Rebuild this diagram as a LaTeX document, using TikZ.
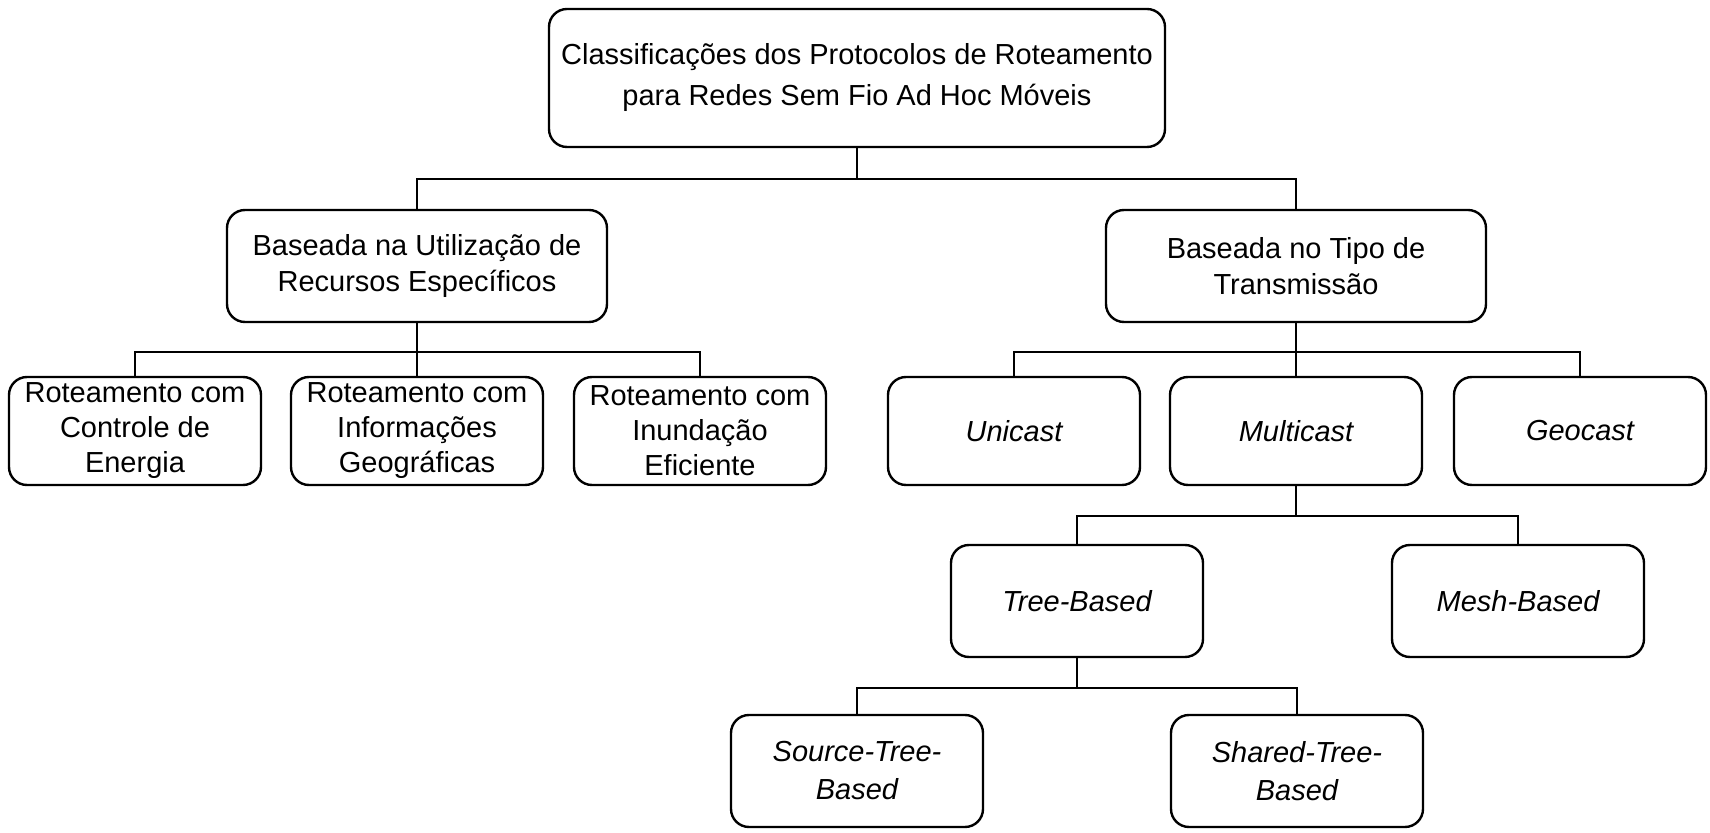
\documentclass[tikz,border=0pt]{standalone}
\usepackage{fontspec}
\setmainfont{Liberation Sans}
\usetikzlibrary{positioning, calc}

\begin{document}
\begin{tikzpicture}[%
    x=0.5pt, y=-0.5pt,
    every node/.style={%
      font=\fontsize{14.5}{17.5}\selectfont,
      text centered,
      align=center
    },
    box/.style={draw=black, line width=1.2pt, rounded corners=9pt, inner sep=0pt},
    midbox/.style={box, minimum width=190pt, minimum height=56pt,
      font=\fontsize{14.5}{18}\selectfont},
    leafbox/.style={box, minimum width=126pt, minimum height=54pt},
    lowbox/.style={box, minimum width=126pt, minimum height=56pt,
      font=\fontsize{14.5}{19}\selectfont\itshape},
    link/.style={draw=black, line width=1pt}
  ]

  \useasboundingbox (0,0) rectangle (1710,833);

  \node[box, minimum width=308pt, minimum height=69pt,
    font=\fontsize{14.5}{20.5}\selectfont]
    (root) at (857,78)
    {Classificações dos Protocolos de Roteamento\\para Redes Sem Fio Ad Hoc Móveis};

  \node[midbox] (recursos) at (417,266)
    {Baseada na Utilização de\\Recursos Específicos};
  \node[midbox] (transm) at (1296,266)
    {Baseada no Tipo de\\Transmissão};

  \node[leafbox] (energia) at (135,431) {Roteamento com\\Controle de\\Energia};
  \node[leafbox] (geo) at (417,431) {Roteamento com\\Informações\\Geográficas};
  \node[leafbox] (inund) at (700,431) {Roteamento com\\Inundação\\Eficiente};

  \node[leafbox, font=\fontsize{14.5}{17.5}\selectfont\itshape] (unicast) at (1014,431) {Unicast};
  \node[leafbox, font=\fontsize{14.5}{17.5}\selectfont\itshape] (multicast) at (1296,431) {Multicast};
  \node[leafbox, font=\fontsize{14.5}{17.5}\selectfont\itshape] (geocast) at (1580,431) {Geocast};

  \node[lowbox] (tree) at (1077,601) {Tree-Based};
  \node[lowbox] (mesh) at (1518,601) {Mesh-Based};

  \node[lowbox] (source) at (857,771) {Source-Tree-\\Based};
  \node[lowbox] (shared) at (1297,771) {Shared-Tree-\\Based};

  % Tree links
  \draw[link] (root.south) -- ++(0,31) -| (recursos.north);
  \draw[link] (root.south) -- ++(0,31) -| (transm.north);

  \draw[link] (recursos.south) -- ++(0,29) -| (energia.north);
  \draw[link] (recursos.south) -- (geo.north);
  \draw[link] (recursos.south) -- ++(0,29) -| (inund.north);

  \draw[link] (transm.south) -- ++(0,29) -| (unicast.north);
  \draw[link] (transm.south) -- (multicast.north);
  \draw[link] (transm.south) -- ++(0,29) -| (geocast.north);

  \draw[link] (multicast.south) -- ++(0,30) -| (tree.north);
  \draw[link] (multicast.south) -- ++(0,30) -| (mesh.north);

  \draw[link] (tree.south) -- ++(0,30) -| (source.north);
  \draw[link] (tree.south) -- ++(0,30) -| (shared.north);

\end{tikzpicture}
\end{document}
